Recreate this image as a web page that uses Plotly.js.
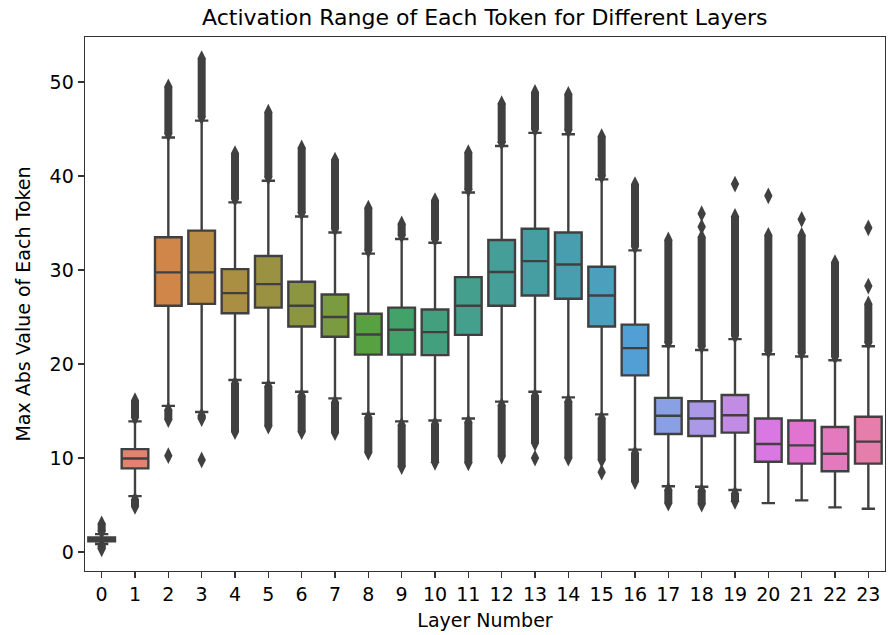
<!DOCTYPE html>
<html><head><meta charset="utf-8">
<script src="https://cdn.plot.ly/plotly-3.0.1.min.js"></script>
<style>body{margin:0;background:#fff}#chart{width:888px;height:635px}</style>
</head><body><div id="chart"></div>
<script>
// ---- data ----
const layers   = [0,1,2,3,4,5,6,7,8,9,10,11,12,13,14,15,16,17,18,19,20,21,22,23];
const q1       = [1.15,8.9,26.2,26.4,25.4,26.0,24.0,22.9,21.0,21.0,20.95,23.1,26.2,27.3,26.95,24.0,18.8,12.55,12.35,12.7,9.6,9.4,8.6,9.4];
const medians  = [1.35,9.95,29.75,29.75,27.55,28.5,26.2,25.0,23.15,23.65,23.4,26.2,29.8,30.95,30.6,27.3,21.7,14.5,14.2,14.55,11.5,11.35,10.45,11.75];
const q3       = [1.55,10.95,33.5,34.2,30.1,31.5,28.75,27.4,25.35,26.0,25.8,29.25,33.2,34.4,34.0,30.35,24.2,16.4,16.05,16.7,14.2,14.0,13.3,14.4];
const loWhisk  = [0.85,5.95,15.55,14.9,18.3,18.0,17.05,16.35,14.7,13.9,14.0,14.2,16.0,17.05,16.45,14.65,10.9,7.0,6.95,6.6,5.2,5.5,4.75,4.6];
const hiWhisk  = [1.9,13.9,44.1,45.9,37.2,39.5,35.7,34.0,31.75,33.3,32.9,38.25,43.2,44.6,44.45,39.65,32.1,21.9,21.5,22.65,21.05,20.8,20.4,21.9];
// dense flier runs (lowest and highest flier of each run)
const upOutLo  = [2.2,14.3,44.5,46.3,37.6,39.9,36.1,34.4,32.1,33.7,33.3,38.6,43.6,45.0,44.9,40.0,32.5,22.3,21.9,23.0,21.4,21.2,20.8,22.3];
const upOutHi  = [3.0,16.1,49.5,52.5,42.4,46.8,43.0,41.7,36.6,34.9,37.4,42.5,47.7,48.9,48.7,44.2,39.1,33.2,33.5,35.7,33.7,33.7,30.8,26.4];
const loOutHi  = [0.65,5.55,15.1,14.5,17.9,17.6,16.6,15.9,14.3,13.5,13.6,13.8,15.6,16.6,16.0,14.2,10.5,6.6,6.5,6.2,null,null,null,null];
const loOutLo  = [0.35,4.85,14.1,14.2,12.8,13.4,12.8,12.7,10.6,9.1,9.55,9.5,10.2,11.6,10.0,9.8,7.5,5.2,5.1,5.4,null,null,null,null];
// isolated fliers
const lonePts  = [[],[],[10.25],[9.8],[],[],[],[],[],[],[],[],[],[10.0],[],[8.5],[],[],[36.0,34.6],[39.15],[37.9],[35.4],[],[28.3,34.5]];
const tickText = layers.map(String);

// ---- seaborn husl palette (desaturated 0.75) ----
const M=[[3.2406,-1.5372,-0.4986],[-0.9689,1.8758,0.0415],[0.0557,-0.2040,1.0570]];
const refU=0.19784, refV=0.46834, labE=0.008856, labK=903.3;
function maxChroma(L,H){const hr=H/360*2*Math.PI,s=Math.sin(hr),c=Math.cos(hr);
 const sub1=Math.pow(L+16,3)/1560896, sub2=sub1>labE?sub1:L/labK; let res=Infinity;
 for(const [m1,m2,m3] of M){const top=(0.99915*m1+1.05122*m2+1.14460*m3)*sub2;
  const rb=0.86330*m3-0.17266*m2, lb=0.12949*m3-0.38848*m1, bot=(rb*s+lb*c)*sub2;
  for(const t of [0,1]){const C=L*(top-1.05122*t)/(bot+0.17266*s*t); if(C>0&&C<res)res=C;}}
 return res;}
function fInv(t){return Math.pow(t,3)>labE?Math.pow(t,3):(116*t-16)/labK;}
function fromLin(c){return c<=0.0031308?12.92*c:1.055*Math.pow(c,1/2.4)-0.055;}
function husl(H,S,L){const C=maxChroma(L,H)/100*S, hr=H/360*2*Math.PI;
 const U=Math.cos(hr)*C, V=Math.sin(hr)*C; const vY=fInv((L+16)/116);
 const vU=U/(13*L)+refU, vV=V/(13*L)+refV; const Y=vY;
 const X=-(9*Y*vU)/((vU-4)*vV-vU*vV); const Z=(9*Y-15*vV*Y-vV*X)/(3*vV);
 return M.map(r=>Math.min(1,Math.max(0,fromLin(r[0]*X+r[1]*Y+r[2]*Z))));}
function rgb2hls(r,g,b){const mx=Math.max(r,g,b),mn=Math.min(r,g,b),l=(mx+mn)/2;
 if(mx===mn)return[0,l,0]; const s=l<=0.5?(mx-mn)/(mx+mn):(mx-mn)/(2-mx-mn);
 const rc=(mx-r)/(mx-mn),gc=(mx-g)/(mx-mn),bc=(mx-b)/(mx-mn);
 let h=r===mx?bc-gc:(g===mx?2+rc-bc:4+gc-rc); h=((h/6)%1+1)%1; return[h,l,s];}
function vv(m1,m2,h){h=((h%1)+1)%1; if(h<1/6)return m1+(m2-m1)*h*6; if(h<0.5)return m2; if(h<2/3)return m1+(m2-m1)*(2/3-h)*6; return m1;}
function hls2rgb(h,l,s){if(s===0)return[l,l,l]; const m2=l<=0.5?l*(1+s):l+s-l*s, m1=2*l-m2;
 return[vv(m1,m2,h+1/3),vv(m1,m2,h),vv(m1,m2,h-1/3)];}
const n=layers.length;
const raw=layers.map(i=>husl(((i/n+0.01)%1)*359,0.9*99,0.65*99));
const cols=raw.map(c=>{const [h,l,s]=rgb2hls(...c); return hls2rgb(h,l,s*0.75);});
const toCss=c=>'rgb('+c.map(v=>Math.round(v*255)).join(',')+')';
const lum=Math.min(...cols.map(c=>rgb2hls(...c)[1]))*0.6;
const gray=toCss([lum,lum,lum]);

const traces=[];
layers.forEach((L,i)=>{
 traces.push({type:'box',x:[L],q1:[q1[i]],median:[medians[i]],q3:[q3[i]],
  lowerfence:[loWhisk[i]],upperfence:[hiWhisk[i]],width:0.8,whiskerwidth:0.5,
  fillcolor:toCss(cols[i]),line:{color:gray,width:2.4},boxpoints:false,
  showlegend:false,hoverinfo:'skip'});
});
const sym='diamond-tall';
layers.forEach((L,i)=>{
 const runs=[[upOutLo[i],upOutHi[i]],[loOutHi[i],loOutLo[i]]];
 runs.forEach(r=>{ if(r[0]==null)return;
  traces.push({type:'scatter',mode:'lines+markers',x:[L,L],y:r,
   line:{color:gray,width:8},marker:{symbol:sym,size:12,color:gray,line:{width:0}},
   showlegend:false,hoverinfo:'skip'});
 });
 if(lonePts[i].length) traces.push({type:'scatter',mode:'markers',x:lonePts[i].map(()=>L),y:lonePts[i],
   marker:{symbol:sym,size:12,color:gray,line:{width:0}},showlegend:false,hoverinfo:'skip'});
});

const font={family:'DejaVu Sans, sans-serif',color:'#000'};
const layout={
 width:888,height:635,margin:{l:85,r:3,t:37,b:64},
 paper_bgcolor:'#fff',plot_bgcolor:'#fff',boxmode:'overlay',
 title:{text:'Activation Range of Each Token for Different Layers',font:{...font,size:22},x:0.546,xanchor:'center',y:0.972,yanchor:'middle'},
 xaxis:{range:[-0.5,23.5],tickvals:layers,ticktext:tickText,showgrid:false,zeroline:false,
  ticks:'outside',ticklen:6,tickwidth:1.4,tickcolor:'#333',showline:true,linecolor:'#333',linewidth:1.4,mirror:true,
  tickfont:{...font,size:19},title:{text:'Layer Number',font:{...font,size:19},standoff:9}},
 yaxis:{range:[-2.02,54.8],tickvals:[0,10,20,30,40,50],showgrid:false,zeroline:false,
  ticks:'outside',ticklen:6,tickwidth:1.4,tickcolor:'#333',showline:true,linecolor:'#333',linewidth:1.4,mirror:true,
  tickfont:{...font,size:19},title:{text:'Max Abs Value of Each Token',font:{...font,size:19},standoff:14}}
};
Plotly.newPlot('chart',traces,layout,{staticPlot:true});
</script></body></html>
